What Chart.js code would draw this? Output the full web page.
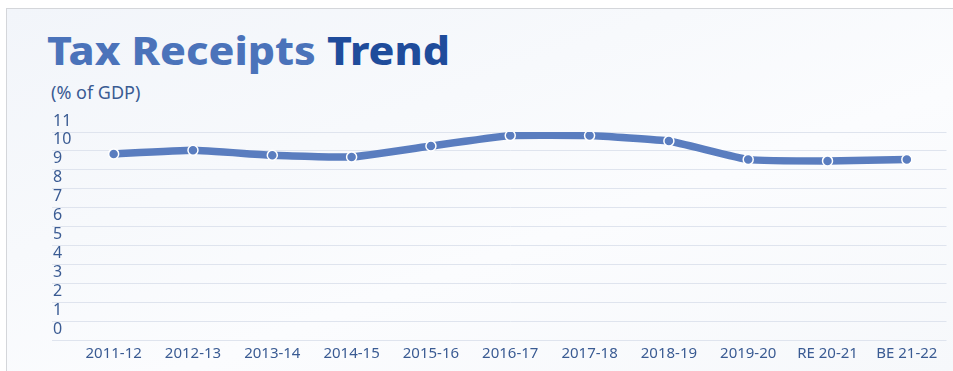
<!DOCTYPE html>
<html>
<head>
<meta charset="utf-8">
<script src="https://cdn.jsdelivr.net/npm/chart.js@4/dist/chart.umd.min.js"></script>
<style>
  html, body { margin: 0; padding: 0; width: 953px; height: 371px; overflow: hidden; background: #ffffff; }
  #frame { position: absolute; left: 6px; top: 8px; width: 947px; height: 363px;
    border-top: 1px solid #d4d6da; border-left: 1px solid #d4d6da;
    background: linear-gradient(160deg, #f2f5fa 0%, #f7f9fc 35%, #fbfcfe 60%, #f6f8fb 100%); }
  #title { position: absolute; left: 47px; top: 23px; font-family: "Noto Sans", sans-serif; font-weight: 800;
    font-size: 39px; white-space: nowrap; transform-origin: 0 0; }
  #title .a { color: #4b73ba; }
  #title .b { color: #1f4c9b; }
  #sub { position: absolute; left: 51px; top: 80px; font-family: "Noto Sans", sans-serif; font-size: 18px; color: #3a5b93; }
  canvas { position: absolute; left: 0; top: 0; }
</style>
</head>
<body>
<div id="frame"></div>
<div id="title"><span class="a">Tax Receipts</span> <span class="b">Trend</span></div>
<div id="sub">(% of GDP)</div>
<canvas id="c" width="953" height="371"></canvas>
<script>
const categories = ["2011-12","2012-13","2013-14","2014-15","2015-16","2016-17","2017-18","2018-19","2019-20","RE 20-21","BE 21-22"];
const taxReceipts = [9.84, 10.03, 9.77, 9.68, 10.26, 10.81, 10.81, 10.52, 9.54, 9.47, 9.54];
const yTickValues = [0,1,2,3,4,5,6,7,8,9,10,11];

// fit title width to reference
(function(){
  const t = document.getElementById('title');
  const w = t.getBoundingClientRect().width;
  t.style.transform = 'scaleX(' + (403 / w) + ')';
})();

const lineColor = '#5a7dbf';
const gridColor = '#dfe4ee';
const textColor = '#3a5b93';

new Chart(document.getElementById('c'), {
  type: 'line',
  data: {
    labels: categories,
    datasets: [{
      data: taxReceipts,
      borderColor: lineColor,
      backgroundColor: lineColor,
      borderWidth: 7.5,
      tension: 0.1,
      pointRadius: 5,
      pointBackgroundColor: lineColor,
      pointBorderColor: '#ffffff',
      pointBorderWidth: 1.5,
      borderCapStyle: 'round'
    }]
  },
  options: {
    responsive: false,
    animation: false,
    layout: { padding: { left: 53, right: 3, top: 132, bottom: 3 } },
    plugins: { legend: { display: false }, tooltip: { enabled: false } },
    scales: {
      x: {
        offset: true,
        grid: { display: false, drawTicks: false },
        border: { display: false },
        ticks: { color: textColor, padding: 5, font: { family: 'Noto Sans', size: 15 }, maxRotation: 0, autoSkip: false }
      },
      y: {
        min: 0, max: 11,
        afterBuildTicks: (s) => { s.ticks = yTickValues.map(v => ({ value: v })); },
        afterFit: (s) => { s.width = 21; },
        grid: { color: gridColor, lineWidth: 1, drawTicks: true, tickLength: 22, tickColor: gridColor },
        border: { display: false },
        ticks: { color: textColor, stepSize: 1, autoSkip: false, crossAlign: 'far', labelOffset: -11, padding: 0, font: { family: 'Noto Sans', size: 16 } }
      }
    }
  }
});
</script>
</body>
</html>
